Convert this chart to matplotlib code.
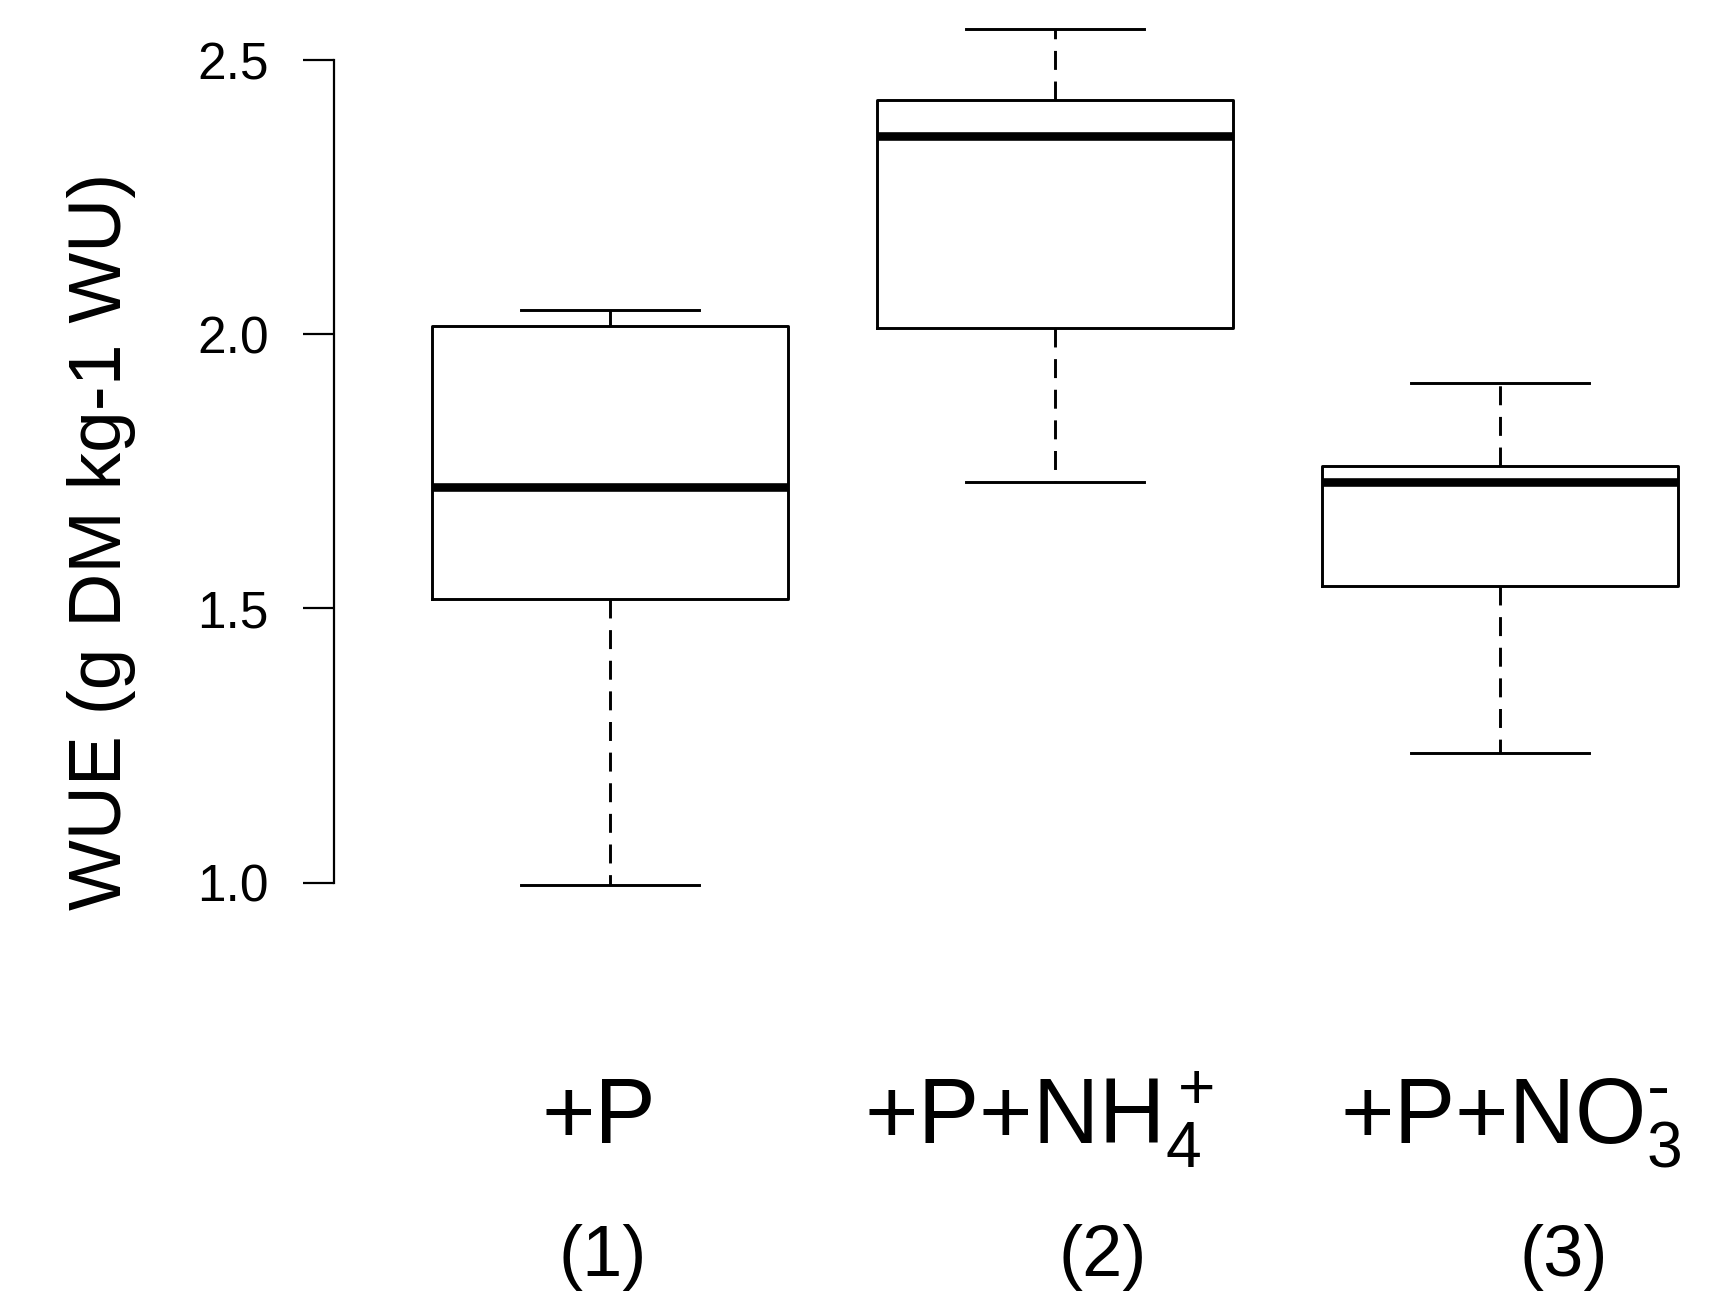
import matplotlib
matplotlib.use("Agg")
import matplotlib.pyplot as plt

# ---- data ----
groups = ["+P", "+P+NH4+", "+P+NO3-"]
group_labels = [r"+P", r"+P+NH$_4^+$", r"+P+NO$_3^{\text{-}}$"]
group_numbers = ["(1)", "(2)", "(3)"]
q1 = [1.517, 2.011, 1.541]
median = [1.722, 2.362, 1.730]
q3 = [2.015, 2.428, 1.760]
whisker_low = [0.996, 1.730, 1.237]
whisker_high = [2.045, 2.556, 1.912]
y_ticks = [1.0, 1.5, 2.0, 2.5]
y_label = "WUE (g DM kg-1 WU)"

plt.rcParams['font.family'] = ['Liberation Sans', 'DejaVu Sans']
plt.rcParams['mathtext.default'] = 'regular'

W, H = 1715, 1293
fig = plt.figure(figsize=(W / 100, H / 100), dpi=100)

# axes placement (pixel-based, R-like plot region, cropped on the right)
left_px, right_px = 334, 1776
top_px, bottom_px = -4.5, 918.8
ax = fig.add_axes([left_px / W, 1 - bottom_px / H,
                   (right_px - left_px) / W, (bottom_px - top_px) / H])

stats = []
for i, g in enumerate(groups):
    stats.append(dict(label=g, med=median[i], q1=q1[i], q3=q3[i],
                      whislo=whisker_low[i], whishi=whisker_high[i], fliers=[]))

lw = 2.1
ax.bxp(stats, positions=[1, 2, 3], widths=0.8, capwidths=0.4,
       showfliers=False, patch_artist=False,
       boxprops=dict(color='black', linewidth=lw),
       medianprops=dict(color='black', linewidth=6.2, solid_capstyle='butt'),
       whiskerprops=dict(color='black', linewidth=lw, linestyle=(0, (6.5, 4.0))),
       capprops=dict(color='black', linewidth=lw))

ax.set_xlim(0.38, 3.62)
ax.set_ylim(0.934, 2.618)

for s in ['top', 'right', 'bottom']:
    ax.spines[s].set_visible(False)
ax.spines['left'].set_bounds(1.0, 2.5)
ax.spines['left'].set_linewidth(1.6)
ax.set_yticks(y_ticks)
ax.set_yticklabels([f"{t:.1f}" for t in y_ticks])
ax.tick_params(axis='y', direction='out', length=22, width=1.6, pad=25,
               labelsize=37, colors='black')
ax.set_xticks([])
ax.patch.set_visible(False)

# y-axis label
fig.text(102 / W, 1 - 541 / H, y_label, rotation=90, ha='center', va='center',
         fontsize=54)

# group labels below the plot
label_x = [599, 1039]
for i, x in enumerate(label_x):
    fig.text(x / W, 1 - 1143 / H, group_labels[i], ha='center', va='baseline',
             fontsize=66)
fig.text(1340 / W, 1 - 1143 / H, group_labels[2], ha='left', va='baseline',
         fontsize=66)

number_x = [603, 1103, 1564]
for i, x in enumerate(number_x):
    fig.text(x / W, 1 - 1276 / H, group_numbers[i], ha='center', va='baseline',
             fontsize=52)

fig.savefig("out.png", dpi=100)
